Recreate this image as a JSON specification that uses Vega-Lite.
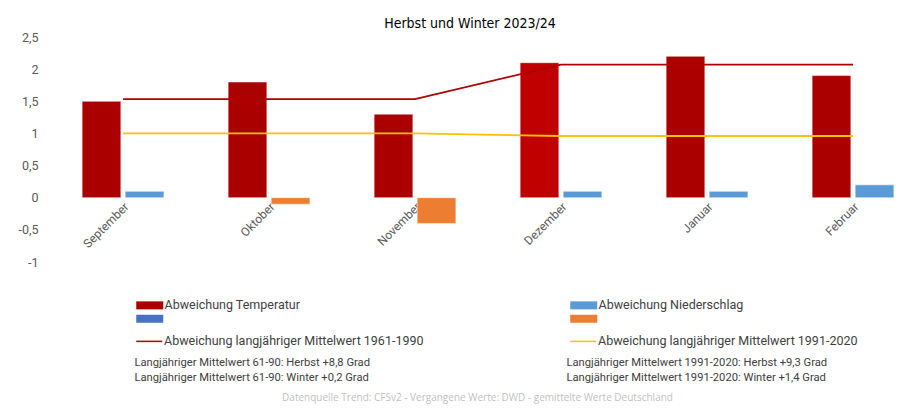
{
  "$schema": "https://vega.github.io/schema/vega-lite/v6.json",
  "autosize": {"type": "none"},
  "width": 850,
  "height": 225,
  "padding": {"left": 50, "top": 37, "right": 0, "bottom": 150},
  "background": "white",
  "title": {
    "text": "Herbst und Winter 2023/24",
    "font": "Liberation Sans Narrow, DejaVu Sans Condensed, sans-serif",
    "fontSize": 14,
    "fontWeight": "normal",
    "color": "#000000",
    "anchor": "middle",
    "dx": -5,
    "offset": 0
  },
  "config": {"view": {"stroke": null}, "font": "Roboto"},
  "datasets": {
    "balken": [
      {"Monat": "September", "Serie": "Temperatur", "Kategorie": "Abweichung Temperatur", "Wert": 1.5},
      {"Monat": "September", "Serie": "Niederschlag", "Kategorie": "Abweichung Niederschlag", "Wert": 0.1},
      {"Monat": "Oktober", "Serie": "Temperatur", "Kategorie": "Abweichung Temperatur", "Wert": 1.8},
      {"Monat": "Oktober", "Serie": "Niederschlag", "Kategorie": "Niederschlag negativ", "Wert": -0.1},
      {"Monat": "November", "Serie": "Temperatur", "Kategorie": "Abweichung Temperatur", "Wert": 1.3},
      {"Monat": "November", "Serie": "Niederschlag", "Kategorie": "Niederschlag negativ", "Wert": -0.4},
      {"Monat": "Dezember", "Serie": "Temperatur", "Kategorie": "Abweichung Temperatur", "Wert": 2.1},
      {"Monat": "Dezember", "Serie": "Niederschlag", "Kategorie": "Abweichung Niederschlag", "Wert": 0.1},
      {"Monat": "Januar", "Serie": "Temperatur", "Kategorie": "Abweichung Temperatur", "Wert": 2.2},
      {"Monat": "Januar", "Serie": "Niederschlag", "Kategorie": "Abweichung Niederschlag", "Wert": 0.1},
      {"Monat": "Februar", "Serie": "Temperatur", "Kategorie": "Abweichung Temperatur", "Wert": 1.9},
      {"Monat": "Februar", "Serie": "Niederschlag", "Kategorie": "Abweichung Niederschlag", "Wert": 0.2}
    ],
    "linien": [
      {"Monat": "September", "Periode": "Abweichung langjähriger Mittelwert 1961-1990", "Wert": 1.535},
      {"Monat": "Oktober", "Periode": "Abweichung langjähriger Mittelwert 1961-1990", "Wert": 1.535},
      {"Monat": "November", "Periode": "Abweichung langjähriger Mittelwert 1961-1990", "Wert": 1.535},
      {"Monat": "Dezember", "Periode": "Abweichung langjähriger Mittelwert 1961-1990", "Wert": 2.07},
      {"Monat": "Januar", "Periode": "Abweichung langjähriger Mittelwert 1961-1990", "Wert": 2.07},
      {"Monat": "Februar", "Periode": "Abweichung langjähriger Mittelwert 1961-1990", "Wert": 2.07},
      {"Monat": "September", "Periode": "Abweichung langjähriger Mittelwert 1991-2020", "Wert": 1.0},
      {"Monat": "Oktober", "Periode": "Abweichung langjähriger Mittelwert 1991-2020", "Wert": 1.0},
      {"Monat": "November", "Periode": "Abweichung langjähriger Mittelwert 1991-2020", "Wert": 1.0},
      {"Monat": "Dezember", "Periode": "Abweichung langjähriger Mittelwert 1991-2020", "Wert": 0.96},
      {"Monat": "Januar", "Periode": "Abweichung langjähriger Mittelwert 1991-2020", "Wert": 0.96},
      {"Monat": "Februar", "Periode": "Abweichung langjähriger Mittelwert 1991-2020", "Wert": 0.96}
    ]
  },
  "layer": [
    {
      "data": {"name": "balken"},
      "mark": {"type": "bar", "stroke": "#ffffff", "strokeOpacity": 0.5, "strokeWidth": 1},
      "encoding": {
        "x": {
          "field": "Monat",
          "type": "nominal",
          "sort": ["September", "Oktober", "November", "Dezember", "Januar", "Februar"],
          "scale": {"paddingInner": 0.44, "paddingOuter": 0.131, "align": 0.84},
          "axis": {
            "title": "Datenquelle Trend: CFSv2 - Vergangene Werte: DWD - gemittelte Werte Deutschland",
            "orient": "bottom",
            "offset": -64.29,
            "labelAngle": -45,
            "ticks": false,
            "domain": false,
            "grid": false,
            "labelFontSize": 12,
            "labelColor": "#595959",
            "labelPadding": 3,
            "titleX": 427,
            "titleY": 200,
            "titleFont": "Open Sans",
            "titleFontSize": 10,
            "titleColor": "#BFBFBF",
            "titleFontWeight": "normal",
            "titleAlign": "center",
            "titleBaseline": "middle"
          }
        },
        "xOffset": {"field": "Serie", "sort": ["Temperatur", "Niederschlag"], "scale": {"paddingInner": 0.1}},
        "y": {
          "field": "Wert",
          "type": "quantitative",
          "scale": {"domain": [-1, 2.5], "nice": false, "zero": false},
          "axis": {
            "values": [-1, -0.5, 0, 0.5, 1, 1.5, 2, 2.5],
            "labelExpr": "replace(toString(datum.value), '.', ',')",
            "ticks": false,
            "domain": false,
            "grid": false,
            "labelPadding": 12,
            "labelFontSize": 12.5,
            "labelColor": "#595959",
            "title": ["Langjähriger Mittelwert 61-90: Herbst +8,8 Grad", "Langjähriger Mittelwert 61-90: Winter +0,2 Grad"],
            "titleAngle": 0,
            "titleX": 84,
            "titleY": 319,
            "titleAlign": "left",
            "titleBaseline": "top",
            "titleFontSize": 11.2,
            "titleColor": "#404040",
            "titleFontWeight": "normal",
            "titleLineHeight": 15
          }
        },
        "color": {
          "condition": {"test": "datum.Monat === 'Dezember' && datum.Serie === 'Temperatur'", "value": "#C00000"},
          "field": "Kategorie",
          "type": "nominal",
          "scale": {
            "domain": ["Abweichung Temperatur", "Temperatur negativ", "Abweichung Niederschlag", "Niederschlag negativ"],
            "range": ["#AA0000", "#4472C4", "#5B9BD5", "#ED7D31"]
          },
          "legend": {
            "orient": "none",
            "legendX": 84,
            "legendY": 262,
            "title": null,
            "columns": 2,
            "columnPadding": 267,
            "rowPadding": 0.5,
            "padding": 0,
            "symbolType": "M-3.375,-1L3.375,-1L3.375,1L-3.375,1Z",
            "symbolSize": 64,
            "symbolStrokeWidth": 0,
            "symbolOpacity": 1,
            "symbolOffset": 9.5,
            "labelOffset": 8.5,
            "labelFontSize": 12.5,
            "labelColor": "#404040",
            "labelExpr": "datum.label === 'Abweichung Temperatur' || datum.label === 'Abweichung Niederschlag' ? datum.label : ''"
          }
        }
      }
    },
    {
      "data": {"name": "linien"},
      "mark": {"type": "line", "strokeWidth": 1.8},
      "encoding": {
        "x": {
          "field": "Monat",
          "type": "nominal",
          "sort": ["September", "Oktober", "November", "Dezember", "Januar", "Februar"]
        },
        "y": {
          "field": "Wert",
          "type": "quantitative",
          "axis": {
            "orient": "right",
            "labels": false,
            "ticks": false,
            "domain": false,
            "grid": false,
            "title": ["Langjähriger Mittelwert 1991-2020: Herbst +9,3 Grad", "Langjähriger Mittelwert 1991-2020: Winter +1,4 Grad"],
            "titleAngle": 0,
            "titleX": -334,
            "titleY": 319,
            "titleAlign": "left",
            "titleBaseline": "top",
            "titleFontSize": 11.2,
            "titleColor": "#404040",
            "titleFontWeight": "normal",
            "titleLineHeight": 15
          }
        },
        "stroke": {
          "field": "Periode",
          "type": "nominal",
          "scale": {
            "domain": ["Abweichung langjähriger Mittelwert 1961-1990", "Abweichung langjähriger Mittelwert 1991-2020"],
            "range": ["#AE0000", "#FFC000"]
          },
          "legend": {
            "orient": "none",
            "legendX": 84,
            "legendY": 298,
            "title": null,
            "columns": 2,
            "columnPadding": 143,
            "padding": 0,
            "symbolType": "M-3.25,0L3.25,0",
            "symbolSize": 64,
            "symbolStrokeWidth": 1.5,
            "symbolOffset": 9,
            "labelOffset": 8.5,
            "labelLimit": 400,
            "labelFontSize": 12.5,
            "labelColor": "#404040"
          }
        }
      }
    },
    {
      "mark": {"type": "rule", "color": "#D9D9D9", "strokeWidth": 1.5},
      "encoding": {"y": {"datum": 0, "type": "quantitative", "axis": null}}
    }
  ],
  "resolve": {"axis": {"y": "independent"}}
}
